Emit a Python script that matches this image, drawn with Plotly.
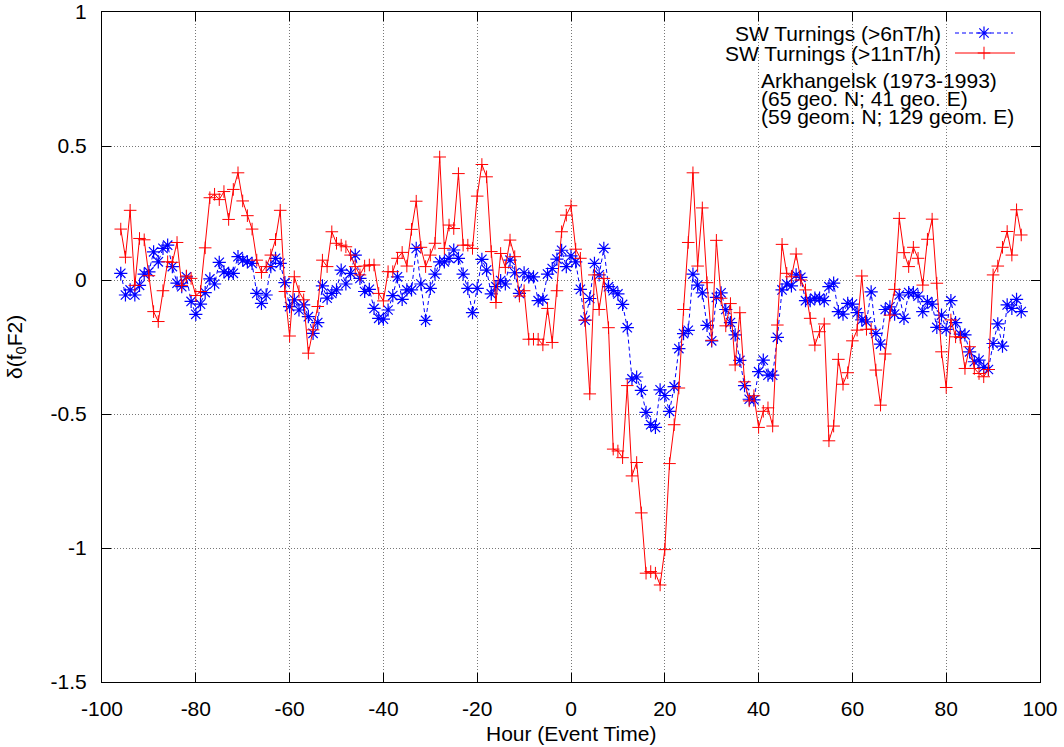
import plotly.graph_objects as go

hours = list(range(-96, 97))

turn6 = [
    0.025, -0.056, -0.037, -0.056, -0.02, 0.022, 0.03, 0.105, 0.068, 0.118,
    0.13, 0.05, -0.012, -0.025, 0.012, -0.08, -0.128, -0.09, -0.047, 0.004,
    -0.015, 0.066, 0.03, 0.025, 0.025, 0.087, 0.074, 0.068, 0.062, -0.05,
    -0.087, -0.056, 0.05, 0.081, 0.062, -0.01, -0.099, -0.074, -0.112, -0.093,
    -0.137, -0.199, -0.159, -0.022, -0.068, -0.05, -0.037, 0.037, -0.015, 0.025,
    0.093, 0.006, -0.043, -0.035, -0.106, -0.143, -0.146, -0.112, -0.058, 0.012,
    -0.072, -0.037, -0.037, 0.118, -0.015, -0.151, -0.031, 0.022, 0.068, 0.068,
    0.081, 0.112, 0.081, 0.022, -0.031, -0.122, -0.031, 0.077, 0.037, -0.052,
    -0.025, -0.002, -0.015, 0.074, 0.027, -0.05, 0.027, 0.012, 0.012, -0.077,
    -0.072, 0.022, 0.043, 0.078, 0.111, 0.05, 0.09, 0.068, -0.035, -0.15,
    -0.069, 0.062, 0.019, 0.118, -0.025, -0.04, -0.052, -0.091, -0.178, -0.369,
    -0.362, -0.412, -0.494, -0.54, -0.55, -0.41, -0.431, -0.49, -0.398, -0.256,
    -0.2, -0.188, 0.022, -0.019, -0.048, -0.169, -0.227, -0.065, -0.048, -0.11,
    -0.159, -0.205, -0.3, -0.394, -0.445, -0.447, -0.342, -0.299, -0.355, -0.355,
    -0.214, -0.037, -0.015, -0.022, 0.019, 0.01, -0.077, -0.077, -0.068, -0.068,
    -0.077, -0.025, -0.012, -0.118, -0.127, -0.087, -0.09, -0.122, -0.149, -0.156,
    -0.044, -0.199, -0.239, -0.11, -0.1, -0.127, -0.056, -0.143, -0.047, -0.047,
    -0.06, -0.118, -0.081, -0.09, -0.177, -0.131, -0.184, -0.077, -0.159, -0.202,
    -0.205, -0.268, -0.305, -0.299, -0.326, -0.334, -0.237, -0.164, -0.247, -0.093,
    -0.106, -0.072, -0.118,
]

turn11 = [
    0.19, 0.085, 0.26, -0.02, 0.155, 0.15, 0.016, -0.118, -0.155, -0.04,
    0.068, 0.066, 0.14, -0.02, 0.015, 0.006, -0.058, -0.043, 0.12, 0.307,
    0.32, 0.30, 0.33, 0.226, 0.338, 0.40, 0.295, 0.24, 0.19, 0.074,
    0.028, 0.05, 0.093, 0.151, 0.26, -0.043, -0.209, 0.012, -0.043, -0.074,
    -0.273, -0.186, -0.099, 0.074, 0.05, 0.18, 0.137, 0.13, 0.124, 0.093,
    0.05, 0.019, 0.052, 0.056, 0.056, -0.05, -0.078, 0.031, 0.031, 0.081,
    0.103, 0.052, 0.189, 0.294, 0.122, 0.05, 0.093, 0.137, 0.459, 0.118,
    0.205, 0.192, 0.397, 0.13, 0.13, 0.118, 0.313, 0.431, 0.385, 0.106,
    -0.084, 0.099, 0.047, 0.149, 0.087, -0.06, -0.04, -0.221, -0.221, -0.221,
    -0.242, -0.106, -0.233, -0.04, 0.18, 0.242, 0.277, 0.115, 0.081, -0.15,
    -0.425, 0.019, -0.11, 0.006, -0.178, -0.631, -0.638, -0.663, -0.394, -0.731,
    -0.681, -0.869, -1.094, -1.088, -1.094, -1.138, -1.006, -0.685, -0.54, -0.403,
    -0.11, 0.14, 0.40, 0.052, 0.269, -0.01, -0.225, 0.148, -0.068, -0.171,
    -0.088, -0.317, -0.122, -0.38, -0.451, -0.432, -0.55, -0.49, -0.477, -0.545,
    -0.168, 0.133, 0.025, 0.012, 0.097, 0.0, -0.037, -0.143, -0.243, -0.193,
    -0.164, -0.6, -0.545, -0.296, -0.389, -0.346, -0.227, -0.187, 0.015, -0.184,
    -0.184, -0.336, -0.467, -0.276, -0.131, -0.035, 0.23, 0.102, 0.05, 0.122,
    0.081, -0.019, 0.152, 0.227, -0.012, -0.268, -0.401, -0.149, -0.212, -0.214,
    -0.33, -0.249, -0.33, -0.349, -0.361, -0.334, 0.019, 0.052, 0.122, 0.181,
    0.093, 0.262, 0.168,
]

series_names = ["SW Turnings (>6nT/h)", "SW Turnings (>11nT/h)"]
x_ticks = [-100, -80, -60, -40, -20, 0, 20, 40, 60, 80, 100]
x_ticktext = ["-100", "-80", "-60", "-40", "-20", "0", "20", "40", "60", "80", "100"]
y_ticks = [-1.5, -1, -0.5, 0, 0.5, 1]
y_ticktext = ["-1.5", "-1", "-0.5", "0", "0.5", "1"]
station_lines = ["Arkhangelsk (1973-1993)", "(65 geo. N; 41 geo. E)", "(59 geom. N; 129 geom. E)"]

FONT = "Liberation Sans, Arial, sans-serif"
FS = 21
BLUE = "#0000ff"
RED = "#ff0000"

fig = go.Figure()
fig.add_trace(go.Scatter(
    x=hours, y=turn6, mode="lines+markers", name=series_names[0],
    line=dict(color=BLUE, width=1, dash="4px,3px"),
    marker=dict(symbol="asterisk-open", size=11, color=BLUE, line=dict(color=BLUE, width=1.2)),
    showlegend=False,
))
fig.add_trace(go.Scatter(
    x=hours, y=turn11, mode="lines+markers", name=series_names[1],
    line=dict(color=RED, width=1),
    marker=dict(symbol="cross-thin-open", size=9, color=RED, line=dict(color=RED, width=1)),
    showlegend=False,
))

# legend keys (gnuplot style: text on the left, sample on the right), in pixel axes
W, H = 1064, 747
L, R, T, B = 102, 24, 12, 65
fig.add_trace(go.Scatter(
    x=[955, 1013], y=[33, 33], mode="lines", xaxis="x2", yaxis="y2",
    line=dict(color=BLUE, width=1, dash="4px,3px"), showlegend=False, hoverinfo="skip"))
fig.add_trace(go.Scatter(
    x=[984], y=[33], mode="markers", xaxis="x2", yaxis="y2",
    marker=dict(symbol="asterisk-open", size=11, color=BLUE, line=dict(color=BLUE, width=1.2)),
    showlegend=False, hoverinfo="skip"))
fig.add_trace(go.Scatter(
    x=[955, 1015], y=[53, 53], mode="lines", xaxis="x2", yaxis="y2",
    line=dict(color=RED, width=1), showlegend=False, hoverinfo="skip"))
fig.add_trace(go.Scatter(
    x=[984], y=[53], mode="markers", xaxis="x2", yaxis="y2",
    marker=dict(symbol="cross-thin-open", size=9, color=RED, line=dict(color=RED, width=1)),
    showlegend=False, hoverinfo="skip"))

axis_common = dict(
    showline=True, linecolor="black", linewidth=1, mirror="allticks",
    ticks="inside", ticklen=9, tickwidth=1, tickcolor="black",
    showgrid=True, gridcolor="#777777", gridwidth=1, griddash="1px,2px",
    zeroline=False, tickfont=dict(family=FONT, size=FS, color="black"),
    automargin=False,
)

fig.update_layout(
    width=W, height=H,
    margin=dict(l=L, r=R, t=T, b=B, autoexpand=False),
    paper_bgcolor="white", plot_bgcolor="white",
    font=dict(family=FONT, size=FS, color="black"),
    xaxis=dict(range=[-100, 100], tickvals=x_ticks, ticktext=x_ticktext,
               ticklabelstandoff=8, **axis_common),
    yaxis=dict(range=[-1.5, 1], tickvals=y_ticks, ticktext=y_ticktext,
               ticklabelstandoff=10, **axis_common),
    xaxis2=dict(range=[L, W - R], overlaying="x", visible=False, fixedrange=True),
    yaxis2=dict(range=[H - B, T], overlaying="y", visible=False, fixedrange=True),
    showlegend=False,
)

pw = W - L - R
ph = H - T - B

def px(xp):
    return (xp - L) / pw

def py(yp):
    return (H - B - yp) / ph

ann = []
ann.append(dict(text=series_names[0], x=px(943), y=py(33), xanchor="right", yanchor="middle"))
ann.append(dict(text=series_names[1], x=px(943), y=py(53), xanchor="right", yanchor="middle"))
for i, line in enumerate(station_lines):
    ann.append(dict(text=line, x=px(759), y=py(80 + 18.4 * i), xanchor="left", yanchor="middle"))
ann.append(dict(text="Hour (Event Time)", x=px(571), y=py(734), xanchor="center", yanchor="middle"))
ann.append(dict(text="δ(f<sub>0</sub>F2)", x=px(16), y=py(347), xanchor="center", yanchor="middle",
                textangle=-90))
for a in ann:
    a.update(xref="paper", yref="paper", showarrow=False,
             font=dict(family=FONT, size=FS, color="black"))
fig.update_layout(annotations=ann)

fig.write_html("out.html")
